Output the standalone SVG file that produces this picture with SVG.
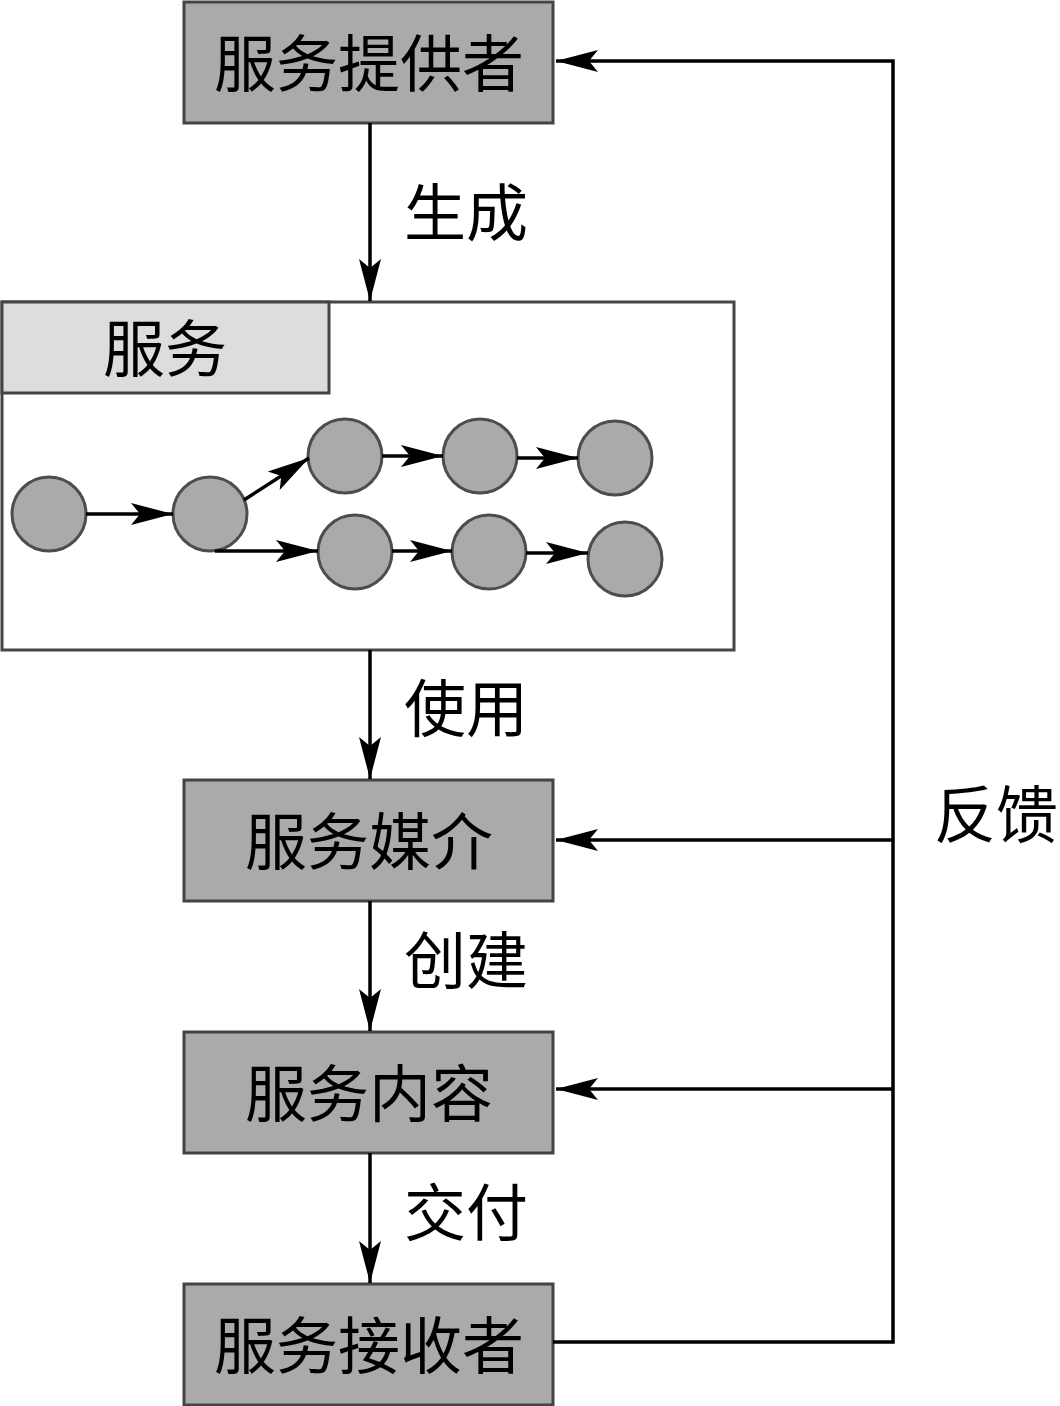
<svg xmlns="http://www.w3.org/2000/svg" width="1060" height="1406" viewBox="0 0 1060 1406">
<defs>
<style>
.box{fill:#aaaaaa;stroke:#444444;stroke-width:3}
.cont{fill:#ffffff;stroke:#444444;stroke-width:3}
.hdr{fill:#dddddd;stroke:#444444;stroke-width:3}
.nd{fill:#aaaaaa;stroke:#4d4d4d;stroke-width:3}
.t{font-family:"Noto Sans CJK SC","Noto Sans CJK JP",sans-serif;font-size:62px;fill:#000;text-anchor:middle;dominant-baseline:central}
.lbl{font-family:"Noto Sans CJK SC","Noto Sans CJK JP",sans-serif;font-size:62px;fill:#000;text-anchor:start;dominant-baseline:central}
.ln{fill:none;stroke:#000;stroke-width:3.5}
</style>
<marker id="ah" markerUnits="userSpaceOnUse" viewBox="-43 -12 44 24" markerWidth="44" markerHeight="24" refX="0" refY="0" orient="auto">
<path d="M0,0 L-42,-11 L-33,0 L-42,11 Z" fill="#000"/>
</marker>
</defs>
<rect width="1060" height="1406" fill="#ffffff"/>

<g id="provider">
<rect class="box" x="184" y="2" width="369" height="121"/>
<text class="t" x="369" y="60">服务提供者</text>
</g>

<g id="service">
<rect class="cont" x="2" y="302" width="732" height="348"/>
<rect class="hdr" x="2" y="302" width="327" height="91"/>
<text class="t" x="165" y="345">服务</text>
<g id="n1"><circle class="nd" cx="49" cy="514" r="37"/></g>
<g id="n2"><circle class="nd" cx="210" cy="514" r="37"/></g>
<g id="n3"><circle class="nd" cx="345" cy="456" r="37"/></g>
<g id="n4"><circle class="nd" cx="480" cy="456" r="37"/></g>
<g id="n5"><circle class="nd" cx="615" cy="458" r="37"/></g>
<g id="n6"><circle class="nd" cx="355" cy="552" r="37"/></g>
<g id="n7"><circle class="nd" cx="489" cy="552" r="37"/></g>
<g id="n8"><circle class="nd" cx="625" cy="559" r="37"/></g>
</g>

<g id="medium">
<rect class="box" x="184" y="780" width="369" height="121"/>
<text class="t" x="369" y="838">服务媒介</text>
</g>

<g id="content">
<rect class="box" x="184" y="1032" width="369" height="121"/>
<text class="t" x="369" y="1090">服务内容</text>
</g>

<g id="receiver">
<rect class="box" x="184" y="1284" width="369" height="121"/>
<text class="t" x="369" y="1342">服务接收者</text>
</g>

<g id="connectors">
<line class="ln" x1="370" y1="123" x2="370" y2="301" marker-end="url(#ah)"/>
<line class="ln" x1="370" y1="650" x2="370" y2="779" marker-end="url(#ah)"/>
<line class="ln" x1="370" y1="901" x2="370" y2="1031" marker-end="url(#ah)"/>
<line class="ln" x1="370" y1="1153" x2="370" y2="1283" marker-end="url(#ah)"/>
<polyline class="ln" points="553,1342 893,1342 893,61 556,61" marker-end="url(#ah)"/>
<line class="ln" x1="893" y1="840" x2="556" y2="840" marker-end="url(#ah)"/>
<line class="ln" x1="893" y1="1089" x2="556" y2="1089" marker-end="url(#ah)"/>
<line class="ln" x1="86" y1="514" x2="173" y2="514" marker-end="url(#ah)"/>
<line class="ln" x1="244" y1="500" x2="309" y2="458" marker-end="url(#ah)"/>
<line class="ln" x1="215" y1="551" x2="318" y2="551" marker-end="url(#ah)"/>
<line class="ln" x1="382" y1="456" x2="443" y2="456" marker-end="url(#ah)"/>
<line class="ln" x1="517" y1="458" x2="578" y2="458" marker-end="url(#ah)"/>
<line class="ln" x1="392" y1="551" x2="452" y2="551" marker-end="url(#ah)"/>
<line class="ln" x1="526" y1="553" x2="588" y2="553" marker-end="url(#ah)"/>
<text class="lbl" x="404" y="209">生成</text>
<text class="lbl" x="404" y="705">使用</text>
<text class="lbl" x="404" y="957">创建</text>
<text class="lbl" x="404" y="1209">交付</text>
<text class="lbl" x="934" y="811">反馈</text>
</g>
</svg>
